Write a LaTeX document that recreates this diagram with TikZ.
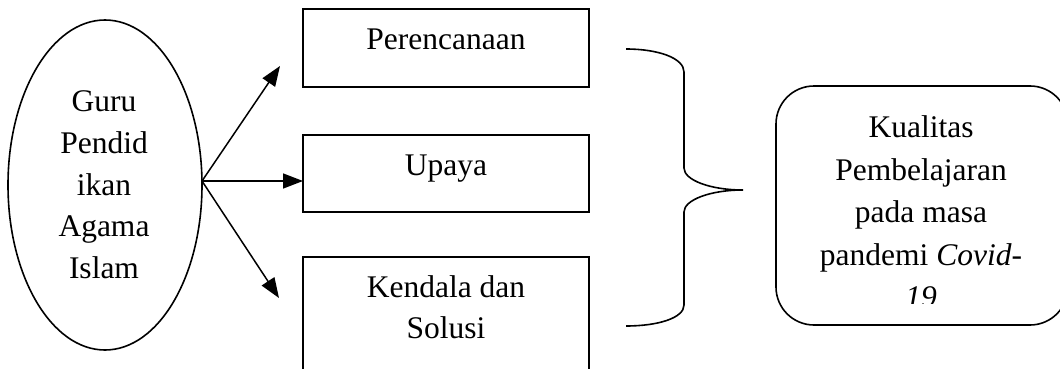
\documentclass[tikz,border=0pt]{standalone}
\usepackage{fontspec}
\setmainfont{Liberation Serif}
\usetikzlibrary{shapes.geometric,arrows.meta}
\begin{document}
\begin{tikzpicture}[x=1pt,y=-1pt,
  shp/.style={draw, line width=1.6pt, inner sep=0pt, outer sep=0pt},
  txt/.style={font=\fontsize{31.5}{41.6}\selectfont, align=center, inner sep=0pt, anchor=base},
  arr/.style={-{Triangle[length=20pt,width=15pt]}, line width=1.5pt},
  brace/.style={line width=1.6pt}]
\clip (0,0) rectangle (1060,369);
% left ellipse
\node[shp, ellipse, minimum width=194pt, minimum height=330pt] (ell) at (105,185) {};
\node[txt] (elltxt) at (104,278.3) {Guru\\Pendid\\ikan\\Agama\\Islam};
% boxes
\node[shp, rectangle, minimum width=286pt, minimum height=78pt] (b1) at (446,48) {};
\node[shp, rectangle, minimum width=286pt, minimum height=77pt] (b2) at (446,173.5) {};
\node[shp, rectangle, minimum width=286pt, minimum height=130pt] (b3) at (446,322) {};
\node[txt] (t1) at (446,50) {Perencanaan};
\node[txt] (t2) at (446,175) {Upaya};
\node[txt, font=\fontsize{31.5}{41}\selectfont] (t3) at (446,338) {Kendala dan\\Solusi};
% arrows
\coordinate (src) at (202,181);
\coordinate (tip1) at (280,66);
\coordinate (tip3) at (279,298);
\draw[arr] (src) -- (tip1);
\draw[arr] (src) -- (b2.west |- src);
\draw[arr] (src) -- (tip3);
% brace
\coordinate (bt) at (626,49);
\coordinate (bm) at (743,190);
\coordinate (bb) at (626,326);
\draw[brace] (bt) .. controls (658,49) and (684,58) .. (684,72)
  -- (684,168) .. controls (684,180) and (710,190) .. (bm)
  .. controls (710,190) and (684,200) .. (684,212)
  -- (684,305) .. controls (684,318) and (658,326) .. (bb);
% result box
\node[shp, rectangle, rounded corners=38pt, minimum width=292pt, minimum height=239pt] (res) at (922,205.5) {};
\begin{scope}
\clip (776,86) rectangle (1060,303.5);
\node[txt, font=\fontsize{31.5}{42.6}\selectfont] (restxt) at (921,307.9) {Kualitas\\Pembelajaran\\pada masa\\pandemi \textit{Covid-}\\\textit{19}};
\end{scope}
\end{tikzpicture}
\end{document}
